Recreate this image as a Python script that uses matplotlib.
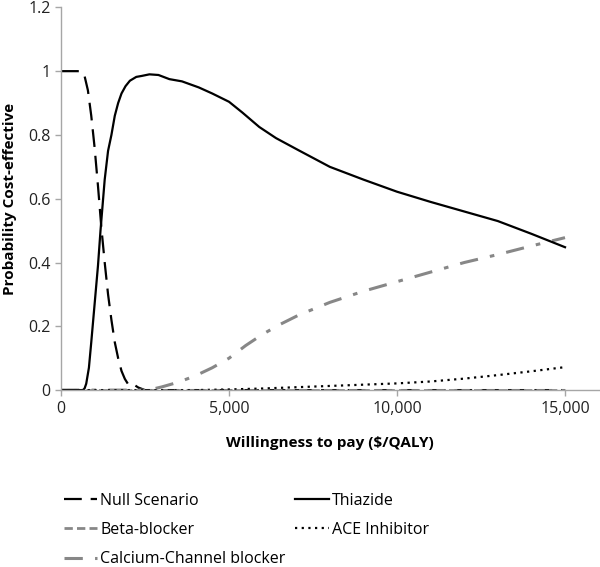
import numpy as np
import matplotlib.pyplot as plt
from matplotlib.ticker import FuncFormatter

plt.rcParams['font.family'] = ['Open Sans', 'DejaVu Sans']

# willingness to pay grids and probabilities
null_x = [0, 300, 600, 700, 800, 900, 1000, 1100, 1200, 1300, 1400, 1500, 1600,
          1700, 1800, 1900, 2000, 2100, 2200, 2300, 2500, 3000, 15000]
null_y = [1.0, 1.0, 1.0, 0.985, 0.94, 0.86, 0.76, 0.64, 0.51, 0.40, 0.30, 0.22, 0.15,
          0.10, 0.06, 0.035, 0.018, 0.012, 0.015, 0.008, 0.0, 0.0, 0.0]

thz_x = [0, 600, 650, 700, 750, 830, 900, 1000, 1100, 1175, 1300, 1400, 1500, 1600,
         1700, 1800, 1920, 2050, 2240, 2400, 2630, 2900, 3225, 3600, 4100, 4500,
         5000, 5400, 5900, 6400, 7070, 8000, 9000, 10000, 11000, 12000, 13000,
         14000, 15000]
thz_y = [0.0, 0.0, 0.0, 0.005, 0.02, 0.07, 0.15, 0.27, 0.39, 0.50, 0.66, 0.75, 0.80,
         0.86, 0.90, 0.93, 0.953, 0.97, 0.982, 0.985, 0.99, 0.988, 0.975, 0.968,
         0.949, 0.93, 0.904, 0.87, 0.825, 0.79, 0.752, 0.70, 0.66, 0.622, 0.59,
         0.56, 0.53, 0.49, 0.448]

beta_x = [0, 5000, 10000, 15000]
beta_y = [0.0, 0.0, 0.0, 0.0]

ccb_x = [0, 2500, 2720, 3000, 3500, 4000, 4500, 5000, 5500, 6000, 6500, 7070,
         8000, 9000, 10000, 11000, 12000, 13000, 14000, 15000]
ccb_y = [0.0, 0.0, 0.003, 0.01, 0.025, 0.045, 0.07, 0.10, 0.14, 0.175, 0.205, 0.235,
         0.275, 0.31, 0.34, 0.37, 0.40, 0.425, 0.452, 0.478]

ace_x = [0, 4000, 5000, 6000, 7000, 8000, 9000, 10000, 11000, 12000, 13000,
         14000, 15000]
ace_y = [0.0, 0.0, 0.002, 0.005, 0.009, 0.013, 0.017, 0.021, 0.027, 0.036, 0.047,
         0.059, 0.072]

grey = '#878787'
axis_grey = '#a6a6a6'

fig = plt.figure(figsize=(6, 5.67), dpi=100)
ax = fig.add_axes([0.1017, 0.312, 0.896, 0.675])

l_null, = ax.plot(null_x, null_y, color='black', lw=1.6, dashes=(8, 4), label='Null Scenario')
l_beta, = ax.plot(beta_x, beta_y, color=grey, lw=2.0, dashes=(3, 1.5), label='Beta-blocker')
l_ccb, = ax.plot(ccb_x, ccb_y, color=grey, lw=2.2, dashes=(6, 4, 1.5, 4), label='Calcium-Channel blocker')
l_thz, = ax.plot(thz_x, thz_y, color='black', lw=1.6, label='Thiazide')
l_ace, = ax.plot(ace_x, ace_y, color='black', lw=1.6, dashes=(1, 2), label='ACE Inhibitor')

ax.set_xlim(0, 16000)
ax.set_ylim(0, 1.2)
ax.set_xticks([0, 5000, 10000, 15000])
ax.set_yticks([0, 0.2, 0.4, 0.6, 0.8, 1.0, 1.2])
ax.xaxis.set_major_formatter(FuncFormatter(lambda v, p: f'{int(v):,}'))
ax.yaxis.set_major_formatter(FuncFormatter(lambda v, p: f'{v:g}'))

for side in ['top', 'right']:
    ax.spines[side].set_visible(False)
for side in ['left', 'bottom']:
    ax.spines[side].set_color(axis_grey)
    ax.spines[side].set_linewidth(1.0)
ax.tick_params(axis='both', direction='out', length=4, width=1.0, color=axis_grey,
               labelsize=11.5, labelcolor='#222222')

ax.set_xlabel('Willingness to pay ($/QALY)', fontsize=11, fontweight='bold', labelpad=14)
ax.set_ylabel('Probability Cost-effective', fontsize=11, fontweight='bold', labelpad=8)

fig.legend(handles=[l_null, l_beta, l_ccb, l_thz, l_ace], ncol=2,
           loc='upper left', bbox_to_anchor=(0.082, 0.156), frameon=False,
           fontsize=11.5, handlelength=2.1, handletextpad=0.2,
           columnspacing=0.6, labelspacing=0.82)

fig.savefig('out.png', dpi=100)
